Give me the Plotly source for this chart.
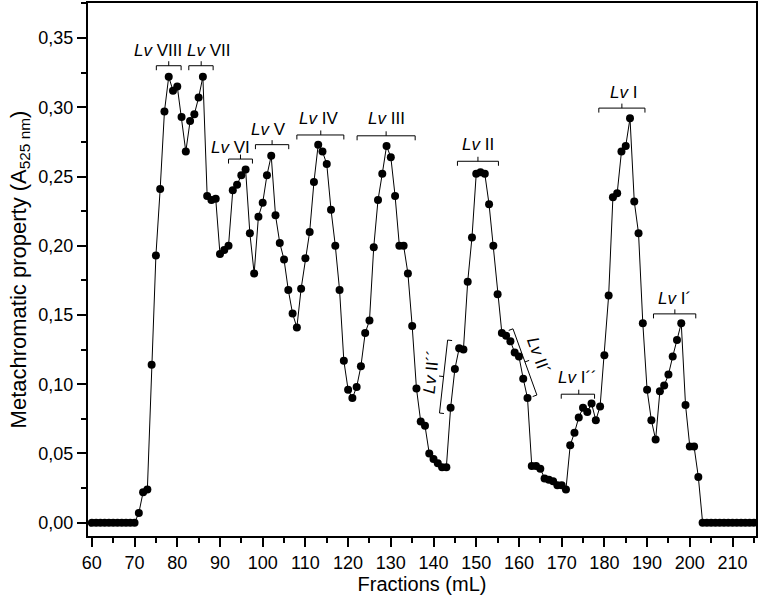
import math
import plotly.graph_objects as go

# fractions (mL) and metachromatic property (A525 nm)
fractions = list(range(60, 216))
absorbance = (
    [0.0] * 11
    + [0.007, 0.022, 0.024, 0.114, 0.193, 0.241, 0.297, 0.322, 0.312, 0.315,
       0.293, 0.268, 0.290, 0.295, 0.307, 0.322, 0.236, 0.233, 0.234, 0.194,
       0.197, 0.200, 0.240, 0.244, 0.251, 0.255, 0.209, 0.180, 0.221, 0.231,
       0.251, 0.265, 0.222, 0.202, 0.190, 0.168, 0.151, 0.141, 0.169, 0.191,
       0.210, 0.246, 0.273, 0.268, 0.259, 0.226, 0.200, 0.168, 0.117, 0.096,
       0.090, 0.098, 0.113, 0.137, 0.146, 0.199, 0.233, 0.252, 0.272, 0.264,
       0.236, 0.200, 0.200, 0.180, 0.142, 0.097, 0.073, 0.070, 0.050, 0.046,
       0.043, 0.040, 0.040, 0.083, 0.111, 0.126, 0.125, 0.174, 0.206, 0.252,
       0.253, 0.252, 0.230, 0.200, 0.165, 0.137, 0.135, 0.131, 0.123, 0.120,
       0.104, 0.090, 0.041, 0.041, 0.039, 0.032, 0.031, 0.030, 0.027, 0.027,
       0.024, 0.056, 0.065, 0.076, 0.083, 0.080, 0.086, 0.074, 0.084, 0.121,
       0.164, 0.235, 0.238, 0.268, 0.272, 0.292, 0.232, 0.209, 0.144, 0.096,
       0.074, 0.060, 0.095, 0.099, 0.107, 0.120, 0.132, 0.144, 0.085, 0.055,
       0.055, 0.033]
    + [0.0] * 13
)

# peak labels: text, text x, text y, bracket start, bracket end, middle tick
peak_names = ['VIII', 'VII', 'VI', 'V', 'IV', 'III', 'II', 'I', 'I´', 'I´´']
label_x = [75.4, 87.4, 92.4, 101.4, 113.1, 128.9, 150.4, 184.4, 196.5, 173.7]
label_y = [0.341, 0.341, 0.271, 0.284, 0.292, 0.292, 0.273, 0.311, 0.162, 0.105]
bracket_x0 = [75.1, 82.7, 92.0, 98.3, 108.0, 122.1, 145.6, 178.7, 191.5, 169.9]
bracket_x1 = [80.9, 88.4, 97.6, 106.1, 119.0, 135.7, 155.2, 189.5, 201.4, 177.7]
bracket_mid = [78.0, 85.6, 94.8, 102.2, 113.6, 128.9, 150.4, 184.1, 196.5, 174.0]
bracket_y = [0.330, 0.330, 0.2626, 0.273, 0.280, 0.2794, 0.261, 0.2994, 0.1508, 0.0928]

# slanted labels on the shoulders of Lv II
slant_names = ['II´´', 'II´']
slant_text_x = [139.6, 164.6]
slant_text_y = [0.1089, 0.1210]
slant_angle = [-84, 70]
slant_start = [(141.4, 0.0792), (158.6, 0.1400)]
slant_end = [(143.3, 0.1319), (164.2, 0.0922)]

X_RANGE = [59.1, 215.5]
Y_RANGE = [-0.0096, 0.3753]
W, H = 760, 601
MARGIN = dict(l=88, r=4, t=3, b=65)
PLOT_W = W - MARGIN['l'] - MARGIN['r']
PLOT_H = H - MARGIN['t'] - MARGIN['b']
FONT = 'Liberation Sans, Arial, sans-serif'


def to_px(x, y):
    return ((x - X_RANGE[0]) / (X_RANGE[1] - X_RANGE[0]) * PLOT_W,
            (y - Y_RANGE[0]) / (Y_RANGE[1] - Y_RANGE[0]) * PLOT_H)


def to_data(px, py):
    return (X_RANGE[0] + px / PLOT_W * (X_RANGE[1] - X_RANGE[0]),
            Y_RANGE[0] + py / PLOT_H * (Y_RANGE[1] - Y_RANGE[0]))


def bracket_path(p0, p1, mid=None, tip=4.5):
    '''Bracket from p0 to p1, end tips on one side, middle tick on the other.'''
    ax, ay = to_px(*p0)
    bx, by = to_px(*p1)
    dx, dy = bx - ax, by - ay
    length = math.hypot(dx, dy)
    nx, ny = -dy / length, dx / length
    if mid is None:
        mx, my = (ax + bx) / 2, (ay + by) / 2
    else:
        mx, my = to_px(*mid)
    pts = [
        (ax - nx * tip, ay - ny * tip), (ax, ay), (bx, by),
        (bx - nx * tip, by - ny * tip),
    ]
    pts = [to_data(*p) for p in pts]
    m0 = to_data(mx, my)
    m1 = to_data(mx + nx * tip, my + ny * tip)
    path = 'M {},{} L {},{} L {},{} L {},{}'.format(
        *[v for p in pts for v in p])
    path += ' M {},{} L {},{}'.format(m0[0], m0[1], m1[0], m1[1])
    return path


fig = go.Figure()

fig.add_trace(go.Scatter(
    x=fractions, y=absorbance, mode='lines+markers',
    line=dict(color='black', width=1),
    marker=dict(color='black', size=8),
    showlegend=False,
))

for i, name in enumerate(peak_names):
    fig.add_annotation(
        x=label_x[i], y=label_y[i], text='<i>Lv</i> ' + name,
        showarrow=False, font=dict(size=17, color='black', family=FONT),
    )
    fig.add_shape(
        type='path',
        path=bracket_path((bracket_x0[i], bracket_y[i]), (bracket_x1[i], bracket_y[i]),
                          (bracket_mid[i], bracket_y[i])),
        line=dict(color='black', width=1),
    )

for i, name in enumerate(slant_names):
    fig.add_annotation(
        x=slant_text_x[i], y=slant_text_y[i], text='<i>Lv</i> ' + name,
        textangle=slant_angle[i], showarrow=False,
        font=dict(size=17, color='black', family=FONT),
    )
    fig.add_shape(
        type='path', path=bracket_path(slant_start[i], slant_end[i]),
        line=dict(color='black', width=1),
    )

axis_style = dict(
    showline=True, linecolor='black', linewidth=2, mirror=True,
    ticks='outside', tickcolor='black', tickwidth=1.5, ticklen=9,
    showgrid=False, zeroline=False, automargin=False,
    tickfont=dict(size=18, color='black', family=FONT),
)

fig.update_xaxes(
    range=X_RANGE, dtick=10, tick0=60,
    minor=dict(ticks='outside', dtick=5, ticklen=5, tickcolor='black', tickwidth=1.5),
    title=dict(text='Fractions (mL)', font=dict(size=20, color='black', family=FONT),
               standoff=4),
    **axis_style,
)
fig.update_yaxes(
    range=Y_RANGE, dtick=0.05, tick0=0, tickformat='.2f',
    minor=dict(ticks='outside', dtick=0.025, ticklen=5, tickcolor='black', tickwidth=1.5),
    title=dict(text='Metachromatic property (A<sub>525 nm</sub>)',
               font=dict(size=22, color='black', family=FONT), standoff=6),
    **axis_style,
)

fig.update_layout(
    width=W, height=H, margin=MARGIN,
    plot_bgcolor='white', paper_bgcolor='white',
    separators=', ',
    font=dict(family=FONT, color='black'),
)

# the page body has a default margin; drop it so the figure sits at the corner
fig.write_html('out.html', config={'displayModeBar': False},
               post_script="document.body.style.margin = '0';")
